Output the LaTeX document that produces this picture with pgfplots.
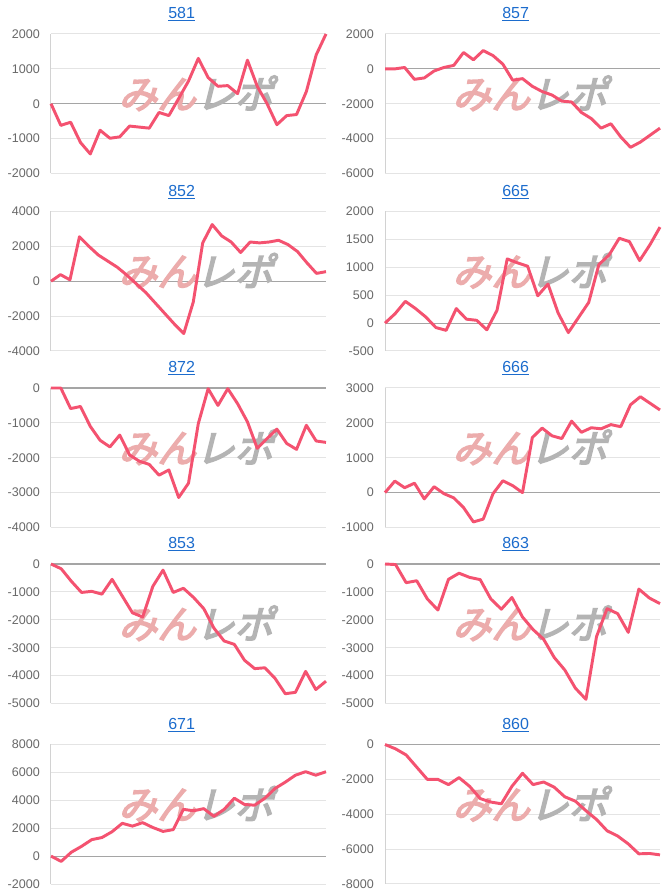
\documentclass[border=0pt]{standalone}
\usepackage{fontspec}
\setmainfont{Liberation Sans}
\newfontfamily\cjk[FakeSlant=0.25,FakeBold=4]{Noto Sans CJK JP}
\usepackage{pgfplots}
\pgfplotsset{compat=1.18}
\definecolor{linec}{RGB}{244,82,112}
\definecolor{titlec}{RGB}{28,108,205}
\definecolor{gridc}{RGB}{228,228,228}
\definecolor{axisc}{RGB}{210,210,210}
\definecolor{zeroc}{RGB}{165,165,165}
\definecolor{tickc}{RGB}{105,105,105}
\definecolor{wmpink}{RGB}{236,172,172}
\definecolor{wmgrey}{RGB}{180,180,180}
\pgfplotsset{
  panel/.style={
    scale only axis, width=275*0.75pt, height=139.5*0.75pt,
    anchor=north west,
    axis line style={draw=none},
    major tick length=0pt,
    xtick=\empty,
    xmin=0, enlargelimits=false, clip=false,
    ymajorgrids, grid style={gridc, line width=0.75pt},
    extra y ticks={0}, extra y tick labels={},
    extra y tick style={grid style={zeroc, line width=0.8pt}},
    yticklabel style={font=\fontsize{9.4}{11}\selectfont, text=tickc, inner sep=0pt, xshift=-11*0.75pt},
    /pgf/number format/assume math mode=true,
    /pgf/number format/1000 sep={},
    title style={at={(axis description cs:0.475,1)}, anchor=center, yshift=19.5*0.75pt-6pt,
      font=\fontsize{12}{14}\selectfont, text=titlec},
  }
}
\newcommand{\panel}[7]{%
\begin{axis}[panel, at={(#1*0.75pt,{(890-#2)*0.75pt})}, title={\underline{#3}},
  ymin=#4, ymax=#5, ytick={#4,#6,...,#5}]
\node[font=\cjk\fontsize{29}{30}\selectfont, inner sep=0pt] at (rel axis cs:0.527,0.575)
  {\textcolor{wmpink}{みん}\textcolor{wmgrey}{レポ}};
\draw[axisc, line width=0.75pt] (rel axis cs:0,0) -- (rel axis cs:0,1);
\addplot[linec, line width=2.2pt, line join=round, mark=none] coordinates {#7};
\end{axis}}
\begin{document}
\begin{tikzpicture}
\path[use as bounding box, fill=white] (0,0) rectangle (666*0.75pt,890*0.75pt);
% row 1
\panel{51}{34}{581}{-2000}{2000}{-1000}{(0,0)(1,-620)(2,-530)(3,-1110)(4,-1440)(5,-760)(6,-990)(7,-950)(8,-640)(9,-670)(10,-700)(11,-250)(12,-340)(13,150)(14,650)(15,1300)(16,750)(17,500)(18,520)(19,290)(20,1250)(21,500)(22,0)(23,-600)(24,-340)(25,-310)(26,350)(27,1400)(28,2000)}
\panel{385}{34}{857}{-6000}{2000}{-4000}{(0,0)(1,0)(2,80)(3,-600)(4,-520)(5,-120)(6,80)(7,200)(8,940)(9,520)(10,1050)(11,760)(12,270)(13,-650)(14,-560)(15,-1000)(16,-1300)(17,-1500)(18,-1850)(19,-1900)(20,-2500)(21,-2850)(22,-3400)(23,-3150)(24,-3900)(25,-4500)(26,-4200)(27,-3800)(28,-3400)}
% row 2
\panel{51}{211.5}{852}{-4000}{4000}{-2000}{(0,0)(1,380)(2,80)(3,2550)(4,2000)(5,1500)(6,1150)(7,800)(8,350)(9,-150)(10,-650)(11,-1250)(12,-1850)(13,-2450)(14,-3000)(15,-1200)(16,2200)(17,3250)(18,2600)(19,2250)(20,1650)(21,2250)(22,2200)(23,2250)(24,2350)(25,2100)(26,1700)(27,1050)(28,450)(29,550)}
\panel{385}{211.5}{665}{-500}{2000}{0}{(0,0)(1,170)(2,390)(3,260)(4,110)(5,-80)(6,-130)(7,260)(8,70)(9,50)(10,-120)(11,230)(12,1150)(13,1080)(14,1020)(15,490)(16,700)(17,180)(18,-170)(19,100)(20,370)(21,1050)(22,1220)(23,1520)(24,1460)(25,1120)(26,1400)(27,1720)}
% row 3
\panel{51}{388}{872}{-4000}{0}{-3000}{(0,0)(1,0)(2,-590)(3,-530)(4,-1100)(5,-1500)(6,-1690)(7,-1350)(8,-1920)(9,-2100)(10,-2190)(11,-2500)(12,-2350)(13,-3140)(14,-2730)(15,-1020)(16,-20)(17,-500)(18,-20)(19,-450)(20,-970)(21,-1730)(22,-1450)(23,-1180)(24,-1590)(25,-1760)(26,-1070)(27,-1520)(28,-1560)}
\panel{385}{388}{666}{-1000}{3000}{0}{(0,0)(1,330)(2,140)(3,270)(4,-180)(5,170)(6,-30)(7,-150)(8,-430)(9,-840)(10,-760)(11,-30)(12,340)(13,200)(14,0)(15,1580)(16,1850)(17,1630)(18,1550)(19,2050)(20,1730)(21,1860)(22,1830)(23,1950)(24,1890)(25,2520)(26,2750)(27,2560)(28,2370)}
% row 4
\panel{51}{564}{853}{-5000}{0}{-4000}{(0,0)(1,-170)(2,-620)(3,-1020)(4,-980)(5,-1080)(6,-550)(7,-1150)(8,-1750)(9,-1900)(10,-800)(11,-220)(12,-1020)(13,-870)(14,-1200)(15,-1600)(16,-2300)(17,-2760)(18,-2880)(19,-3450)(20,-3750)(21,-3720)(22,-4100)(23,-4650)(24,-4600)(25,-3850)(26,-4500)(27,-4200)}
\panel{385}{564}{863}{-5000}{0}{-4000}{(0,0)(1,-20)(2,-670)(3,-600)(4,-1250)(5,-1650)(6,-550)(7,-330)(8,-480)(9,-560)(10,-1250)(11,-1620)(12,-1200)(13,-1900)(14,-2350)(15,-2700)(16,-3350)(17,-3800)(18,-4450)(19,-4850)(20,-2600)(21,-1600)(22,-1780)(23,-2450)(24,-900)(25,-1220)(26,-1420)}
% row 5
\panel{51}{744.5}{671}{-2000}{8000}{0}{(0,0)(1,-380)(2,280)(3,700)(4,1180)(5,1330)(6,1750)(7,2350)(8,2150)(9,2400)(10,2050)(11,1770)(12,1900)(13,3350)(14,3250)(15,3400)(16,2850)(17,3350)(18,4150)(19,3700)(20,3650)(21,4150)(22,4850)(23,5300)(24,5800)(25,6050)(26,5800)(27,6050)}
\panel{385}{744.5}{860}{-8000}{0}{-6000}{(0,0)(1,-250)(2,-600)(3,-1300)(4,-2000)(5,-2000)(6,-2300)(7,-1900)(8,-2400)(9,-3100)(10,-3300)(11,-3400)(12,-2400)(13,-1650)(14,-2300)(15,-2150)(16,-2450)(17,-3000)(18,-3250)(19,-3800)(20,-4300)(21,-4950)(22,-5250)(23,-5700)(24,-6270)(25,-6250)(26,-6330)}
\end{tikzpicture}
\end{document}
